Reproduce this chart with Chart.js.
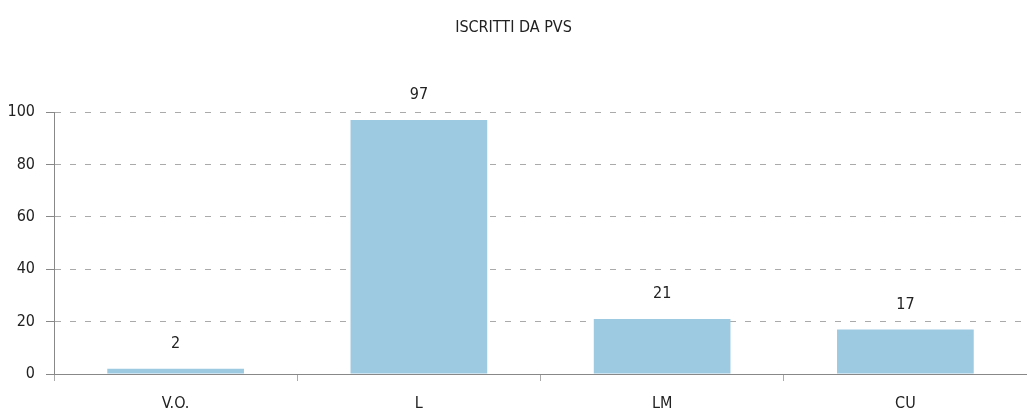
<!DOCTYPE html>
<html>
<head>
<meta charset="utf-8">
<script src="https://cdn.jsdelivr.net/npm/chart.js@4/dist/chart.umd.min.js"></script>
<style>
  html, body { margin: 0; padding: 0; background: #fff; }
  #wrap { width: 1027px; height: 412px; position: relative; }
</style>
</head>
<body>
<div id="wrap"><canvas id="c"></canvas></div>
<script>
const categories = ['V.O.', 'L', 'LM', 'CU'];
const iscritti = [2, 97, 21, 17];
const yTicks = [0, 20, 40, 60, 80, 100];
const chartTitle = 'ISCRITTI DA PVS';

const FONT = "'DejaVu Sans Condensed', 'DejaVu Sans', sans-serif";
const WEIGHT = 'normal condensed';
const TEXT = '#222222';

const valueLabels = {
  id: 'valueLabels',
  afterDatasetsDraw(chart) {
    const ctx = chart.ctx;
    const meta = chart.getDatasetMeta(0);
    ctx.save();
    ctx.font = WEIGHT + ' 16px ' + FONT;
    ctx.fillStyle = TEXT;
    ctx.textAlign = 'center';
    ctx.textBaseline = 'bottom';
    meta.data.forEach((bar, i) => {
      ctx.fillText(String(chart.data.datasets[0].data[i]), bar.x, bar.y - 17);
    });
    ctx.restore();
  }
};

new Chart(document.getElementById('c'), {
  type: 'bar',
  data: {
    labels: categories,
    datasets: [{
      data: iscritti,
      backgroundColor: '#9ecae1',
      borderWidth: 0,
      categoryPercentage: 1,
      barPercentage: 0.562
    }]
  },
  options: {
    responsive: true,
    maintainAspectRatio: false,
    animation: false,
    devicePixelRatio: 1,
    layout: { padding: { left: 0, right: 0, top: 0, bottom: 0 } },
    plugins: {
      legend: { display: false },
      tooltip: { enabled: false },
      title: {
        display: true,
        text: chartTitle,
        color: TEXT,
        font: { family: FONT, size: 16, weight: WEIGHT, lineHeight: 1.2 },
        padding: { top: 18, bottom: 75 }
      }
    },
    scales: {
      x: {
        afterFit(scale) { scale.height = 38; },
        grid: {
          display: true,
          drawOnChartArea: false,
          drawTicks: true,
          tickLength: 7,
          tickColor: '#aaaaaa',
          tickWidth: 1,
          offset: true
        },
        border: { display: true, color: '#888888', width: 1 },
        ticks: {
          color: TEXT,
          padding: 15,
          font: { family: FONT, size: 16, weight: WEIGHT, lineHeight: 1 }
        }
      },
      y: {
        min: 0,
        max: 100,
        afterFit(scale) { scale.width = 54; },
        afterBuildTicks(scale) { scale.ticks = yTicks.map(v => ({ value: v })); },
        grid: {
          color: (ctx) => (ctx.tick && ctx.tick.value === 0) ? 'rgba(0,0,0,0)' : '#aaaaaa',
          lineWidth: 1,
          drawTicks: true,
          tickLength: 8,
          tickColor: '#888888',
          tickBorderDash: []
        },
        border: { display: true, color: '#888888', width: 1, dash: [6, 9] },
        ticks: {
          color: TEXT,
          padding: 11,
          font: { family: FONT, size: 16, weight: WEIGHT, lineHeight: 1.2 }
        }
      }
    }
  },
  plugins: [valueLabels]
});
</script>
</body>
</html>
